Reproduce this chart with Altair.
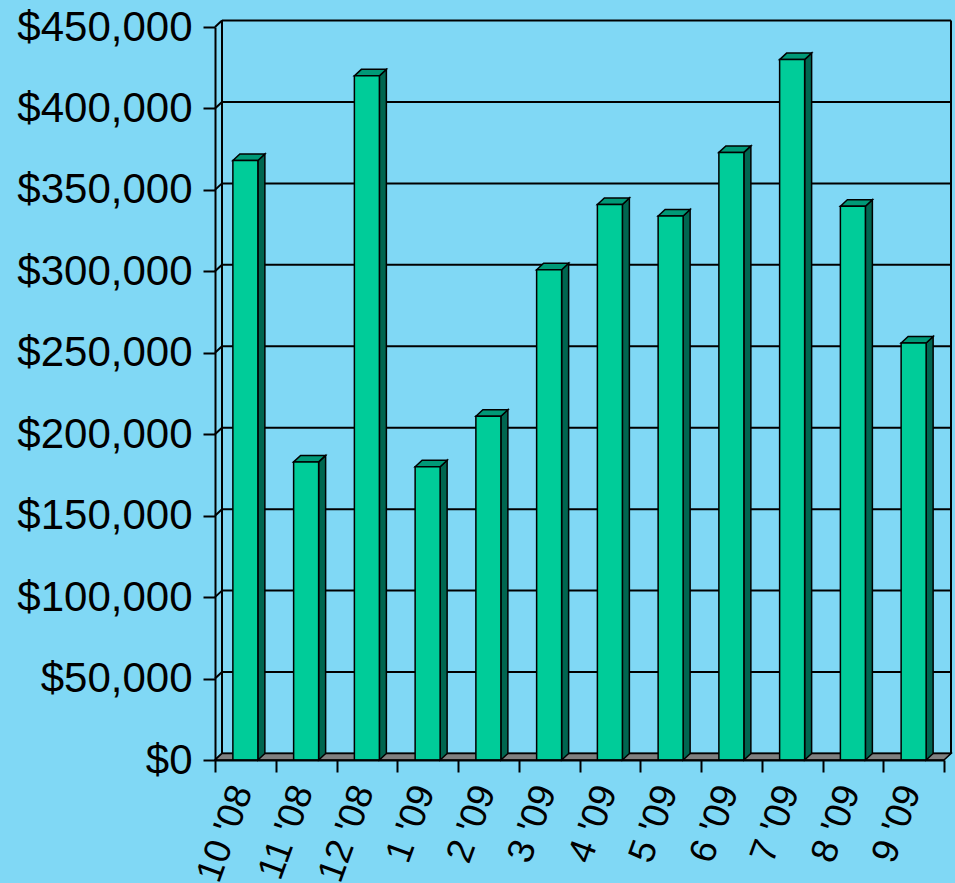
import altair as alt
import pandas as pd

# ---- data ----
categories = ["10 '08", "11 '08", "12 '08", "1 '09", "2 '09", "3 '09",
              "4 '09", "5 '09", "6 '09", "7 '09", "8 '09", "9 '09"]
values = [368000, 183000, 420000, 180000, 211000, 301000,
          341000, 334000, 373000, 430000, 340000, 256000]
y_ticks = [0, 50000, 100000, 150000, 200000, 250000, 300000, 350000, 400000, 450000]

# ---- styling constants ----
W, H = 729, 733
YMAX = 450000
N = len(categories)
DEPTH_X_PX, DEPTH_Y_PX = 7, 6.5
BAR_PX = 25
BG = "#80d8f5"
FRONT = "#00cc99"
SIDE = "#006650"
TOP = "#009977"
FLOOR = "#808080"
FONT = "Liberation Sans"

ux = W / N                      # pixels per category
dxu = DEPTH_X_PX / ux           # depth in x data units
dyu = DEPTH_Y_PX * YMAX / H     # depth in y data units
bw = BAR_PX / ux

xscale = alt.Scale(domain=[0, N], nice=False, zero=False)
yscale = alt.Scale(domain=[0, YMAX], nice=False)

xaxis = alt.Axis(values=list(range(N + 1)), labels=False, tickSize=12,
                 tickWidth=2, tickColor="black", domainColor="black",
                 domainWidth=2, grid=False, title=None, zindex=1)
yaxis = alt.Axis(values=y_ticks, format="$,.0f", labelFontSize=42,
                 labelFont=FONT, labelColor="black", tickSize=12,
                 tickWidth=2, tickColor="black", domainColor="black",
                 domainWidth=2, labelPadding=11, grid=False,
                 title=None, zindex=1)

# tables built from the arrays
front_rows, side_rows, top_rows, label_rows = [], [], [], []
for i, (c, v) in enumerate(zip(categories, values)):
    xl = i + 0.5 - bw / 2
    xr = i + 0.5 + bw / 2
    front_rows.append({"cat": c, "x1": xl, "x2": xr, "v": v})
    side_rows += [
        {"cat": c, "x": xr, "top": v, "bot": 0},
        {"cat": c, "x": xr + dxu, "top": v + dyu, "bot": dyu},
    ]
    top_rows += [
        {"cat": c, "x": xl, "top": v, "bot": v},
        {"cat": c, "x": xl + dxu, "top": v + dyu, "bot": v},
        {"cat": c, "x": xr, "top": v + dyu, "bot": v},
        {"cat": c, "x": xr + dxu, "top": v + dyu, "bot": v + dyu},
    ]
    label_rows.append({"cat": c, "mid": i + 0.5})

front_df = pd.DataFrame(front_rows)
side_df = pd.DataFrame(side_rows)
top_df = pd.DataFrame(top_rows)
label_df = pd.DataFrame(label_rows)
floor_df = pd.DataFrame({
    "x": [0, dxu, N, N + dxu],
    "top": [0, dyu, dyu, dyu],
    "bot": [0, 0, 0, dyu],
})
tick_df = pd.DataFrame({"v": y_ticks})

X = lambda f: alt.X(f, scale=xscale, axis=xaxis)
Y = lambda f: alt.Y(f, scale=yscale, axis=yaxis)

# back-wall gridlines
grid = alt.Chart(tick_df).mark_rule(
    color="black", strokeWidth=2, yOffset=-DEPTH_Y_PX, y2Offset=-DEPTH_Y_PX
).encode(
    y=Y("v:Q"),
    y2="v:Q",
    x=alt.value(DEPTH_X_PX),
    x2=alt.value(W + DEPTH_X_PX),
)

# left wall connectors
diag = alt.Chart(tick_df).mark_rule(
    color="black", strokeWidth=2, y2Offset=-DEPTH_Y_PX
).encode(
    y=Y("v:Q"),
    y2="v:Q",
    x=alt.value(0),
    x2=alt.value(DEPTH_X_PX),
)

# wall vertical edges
edges_df = pd.DataFrame({"px": [DEPTH_X_PX, W + DEPTH_X_PX], "lo": [0, 0], "hi": [YMAX, YMAX]})
edges = alt.Chart(edges_df).mark_rule(
    color="black", strokeWidth=2, yOffset=-DEPTH_Y_PX, y2Offset=-DEPTH_Y_PX
).encode(
    y=Y("lo:Q"),
    y2="hi:Q",
    x=alt.X("px:Q", scale=None),
)

floor = alt.Chart(floor_df).mark_area(
    color=FLOOR, stroke="black", strokeWidth=1.5, opacity=1
).encode(
    x=X("x:Q"),
    y=Y("top:Q"),
    y2="bot:Q",
)

side = alt.Chart(side_df).mark_area(
    color=SIDE, stroke="black", strokeWidth=1.5, opacity=1
).encode(
    x=X("x:Q"),
    y=Y("top:Q"),
    y2="bot:Q",
    detail="cat:N",
)

top = alt.Chart(top_df).mark_area(
    color=TOP, stroke="black", strokeWidth=1.5, opacity=1
).encode(
    x=X("x:Q"),
    y=Y("top:Q"),
    y2="bot:Q",
    detail="cat:N",
)

front = alt.Chart(front_df).mark_rect(
    color=FRONT, stroke="black", strokeWidth=1.5
).encode(
    x=X("x1:Q"),
    x2="x2:Q",
    y=Y("v:Q"),
    y2=alt.datum(0),
)

labels = alt.Chart(label_df).mark_text(
    angle=290, align="right", baseline="middle", fontSize=37, font=FONT,
    color="black", xOffset=-3
).encode(
    x=X("mid:Q"),
    y=alt.value(760),
    text="cat:N",
)

chart = alt.layer(grid, diag, edges, floor, side, top, front, labels).properties(
    width=W, height=H,
    background=BG,
    padding={"left": 215, "top": 27, "right": 11, "bottom": 123},
    autosize=alt.AutoSizeParams(type="none"),
).configure_view(stroke=None)

chart.save("out.html", embed_options={"renderer": "svg", "actions": False})
